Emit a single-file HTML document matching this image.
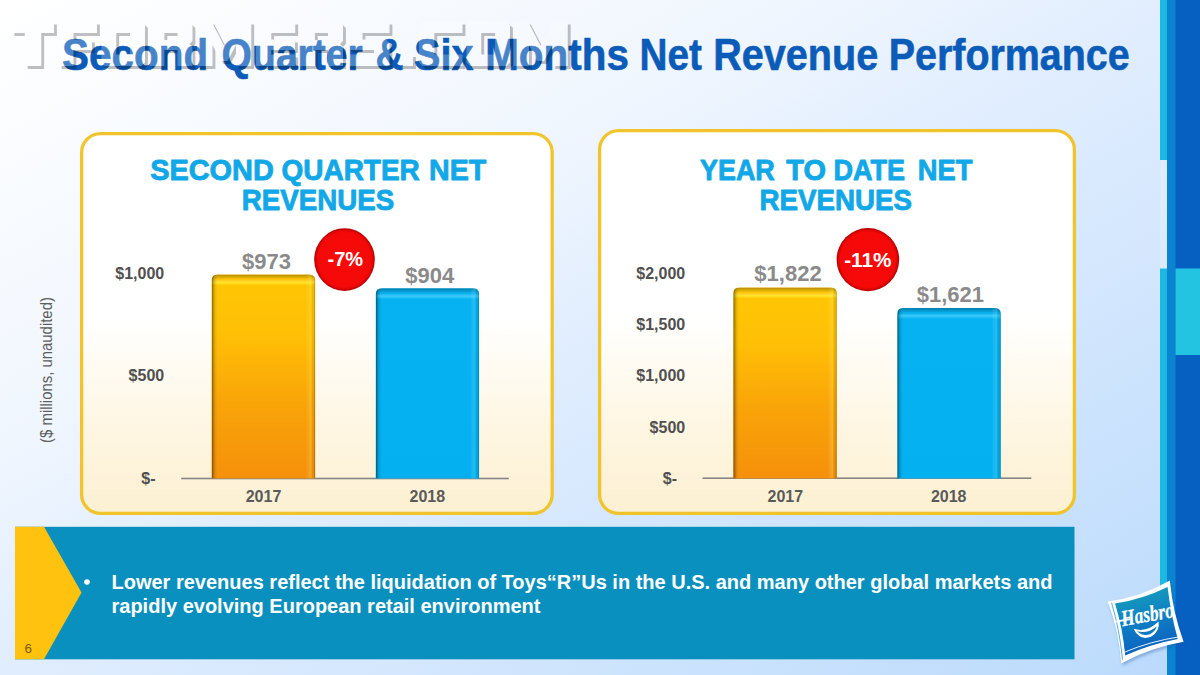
<!DOCTYPE html>
<html>
<head>
<meta charset="utf-8">
<title>Second Quarter &amp; Six Months Net Revenue Performance</title>
<style>
html,body{margin:0;padding:0;background:#fff;}
body{width:1200px;height:675px;overflow:hidden;font-family:"Liberation Sans",sans-serif;}
svg{display:block;position:absolute;left:0;top:0;}
text{font-family:"Liberation Sans",sans-serif;}
.b{font-weight:bold;}
</style>
</head>
<body>
<svg width="1200" height="675" viewBox="0 0 1200 675">
<defs>
  <linearGradient id="bg" x1="0" y1="0" x2="1" y2="1">
    <stop offset="0" stop-color="#ffffff"/>
    <stop offset="0.33" stop-color="#f0f6fe"/>
    <stop offset="0.5" stop-color="#e0edfe"/>
    <stop offset="1" stop-color="#badafc"/>
  </linearGradient>
  <linearGradient id="panel" x1="0" y1="0" x2="0" y2="1">
    <stop offset="0" stop-color="#ffffff"/>
    <stop offset="0.48" stop-color="#ffffff"/>
    <stop offset="0.78" stop-color="#fef6e2"/>
    <stop offset="1" stop-color="#fdf0d2"/>
  </linearGradient>
  <linearGradient id="gold" x1="0" y1="0" x2="0" y2="1">
    <stop offset="0" stop-color="#ffc704"/>
    <stop offset="0.3" stop-color="#ffbf06"/>
    <stop offset="0.62" stop-color="#f9a508"/>
    <stop offset="1" stop-color="#f5900b"/>
  </linearGradient>
  <linearGradient id="blue" x1="0" y1="0" x2="0" y2="1">
    <stop offset="0" stop-color="#06b2f2"/>
    <stop offset="1" stop-color="#04b0f0"/>
  </linearGradient>
  <linearGradient id="topbev" x1="0" y1="0" x2="0" y2="1">
    <stop offset="0" stop-color="#000" stop-opacity="0.30"/>
    <stop offset="0.35" stop-color="#000" stop-opacity="0.08"/>
    <stop offset="0.5" stop-color="#fff" stop-opacity="0"/>
    <stop offset="0.75" stop-color="#ffff40" stop-opacity="0.55"/>
    <stop offset="1" stop-color="#ffff40" stop-opacity="0"/>
  </linearGradient>
  <linearGradient id="topbevB" x1="0" y1="0" x2="0" y2="1">
    <stop offset="0" stop-color="#000" stop-opacity="0.30"/>
    <stop offset="0.35" stop-color="#000" stop-opacity="0.08"/>
    <stop offset="0.5" stop-color="#fff" stop-opacity="0"/>
    <stop offset="0.75" stop-color="#60e0ff" stop-opacity="0.5"/>
    <stop offset="1" stop-color="#60e0ff" stop-opacity="0"/>
  </linearGradient>
  <linearGradient id="leftbev" x1="0" y1="0" x2="1" y2="0">
    <stop offset="0" stop-color="#000" stop-opacity="0.5"/>
    <stop offset="0.5" stop-color="#000" stop-opacity="0.12"/>
    <stop offset="1" stop-color="#000" stop-opacity="0"/>
  </linearGradient>
  <linearGradient id="rightbev" x1="0" y1="0" x2="1" y2="0">
    <stop offset="0" stop-color="#fff" stop-opacity="0"/>
    <stop offset="0.55" stop-color="#ffff60" stop-opacity="0.22"/>
    <stop offset="0.8" stop-color="#000" stop-opacity="0.05"/>
    <stop offset="1" stop-color="#000" stop-opacity="0.30"/>
  </linearGradient>
  <linearGradient id="rightbevB" x1="0" y1="0" x2="1" y2="0">
    <stop offset="0" stop-color="#fff" stop-opacity="0"/>
    <stop offset="0.55" stop-color="#60e0ff" stop-opacity="0.25"/>
    <stop offset="0.8" stop-color="#000" stop-opacity="0.05"/>
    <stop offset="1" stop-color="#000" stop-opacity="0.28"/>
  </linearGradient>
  <filter id="soft" x="-20%" y="-20%" width="140%" height="140%"><feGaussianBlur stdDeviation="1.6"/></filter>
  <radialGradient id="red" cx="0.5" cy="0.5" r="0.5">
    <stop offset="0" stop-color="#fb0a0a"/>
    <stop offset="0.88" stop-color="#f40808"/>
    <stop offset="0.95" stop-color="#d80404"/>
    <stop offset="1" stop-color="#a80000"/>
  </radialGradient>
  <linearGradient id="logo" x1="0" y1="0" x2="0.25" y2="1">
    <stop offset="0" stop-color="#1aa6b4"/>
    <stop offset="0.45" stop-color="#0f86c4"/>
    <stop offset="1" stop-color="#0b62c0"/>
  </linearGradient>
</defs>

<!-- background -->
<rect x="0" y="0" width="1200" height="675" fill="url(#bg)"/>

<!-- right stripes -->
<rect x="1160" y="0" width="7.5" height="160" fill="#1db8e2"/>
<rect x="1160" y="268.5" width="7.5" height="320" fill="#1db8e2"/>
<rect x="1160" y="160" width="7.5" height="108.5" fill="#ffffff" fill-opacity="0.2"/>
<rect x="1167" y="0" width="9" height="675" fill="#0a84d0"/>
<rect x="1175.5" y="0" width="24.5" height="675" fill="#0660c2"/>
<rect x="1175.5" y="268.5" width="24.5" height="86.5" fill="#22c4e2"/>

<!-- title -->
<g class="b" font-size="44.5" fill="#0b5cb8" stroke="#0b5cb8" stroke-width="0.6" stroke-linejoin="round">
  <text class="b" x="62.09" y="69.6" textLength="146.14" lengthAdjust="spacingAndGlyphs">Second</text>
  <text class="b" x="221.62" y="69.6" textLength="141.16" lengthAdjust="spacingAndGlyphs">Quarter</text>
  <text class="b" x="375.38" y="69.6" textLength="28.12" lengthAdjust="spacingAndGlyphs">&amp;</text>
  <text class="b" x="414.11" y="69.6" textLength="59.42" lengthAdjust="spacingAndGlyphs">Six</text>
  <text class="b" x="485.18" y="69.6" textLength="143.71" lengthAdjust="spacingAndGlyphs">Months</text>
  <text class="b" x="639.51" y="69.6" textLength="62.33" lengthAdjust="spacingAndGlyphs">Net</text>
  <text class="b" x="713.22" y="69.6" textLength="164.94" lengthAdjust="spacingAndGlyphs">Revenue</text>
  <text class="b" x="888.73" y="69.6" textLength="240.93" lengthAdjust="spacingAndGlyphs">Performance</text>
</g>

<!-- watermark (TFORMERS.COM, white block letters with soft shadow) -->
<g opacity="0.24">
  <path transform="translate(2.9,2.9)" fill="#000000" fill-rule="evenodd" d="M11.5 21.5 H54 V33 H41.25 V66 H24.75 V33 H11.5 Z M58.75 21.5 H97 V33 H73.5 V39.5 H92 V50 H73.5 V66 H58.75 Z M101.5 25 L105 21.5 H141.5 L145 25 V62.5 L141.5 66 H105 L101.5 62.5 Z M116.25 33 H130 V54.5 H116.25 Z M149.5 21.5 H189 L192.5 25 V41 L189.5 44 L192.5 47 V66 H177.5 V50 H164.4 V66 H149.5 Z M164.4 33 H177.5 V40 H164.4 Z M197 21.5 H211.5 L224.1 46 L236.7 21.5 H251.25 V66 H236 V45 L227.5 61 H220.7 L212.5 45 V66 H197 Z M256 21.5 H295.25 V33 H271.25 V39.5 H295 V50 H271.25 V54.5 H295.25 V66 H256 Z M300.0 21.5 H339.5 L343.0 25 V41 L340.0 44 L343.0 47 V66 H328.0 V50 H314.9 V66 H300.0 Z M314.9 33 H328.0 V40 H314.9 Z M347 21.5 H389.5 V33 H362.5 V39.5 H386 L389.5 43 V66 H347 V54.5 H374 V50 H350.5 L347 46.5 Z M400 54 H413 V66 H400 Z M422.5 21.5 H462.5 V33 H434.4 V54.5 H462.5 V66 H422.5 L419 62.5 V25 Z M466.5 25 L470 21.5 H506.5 L510 25 V62.5 L506.5 66 H470 L466.5 62.5 Z M481.25 33 H495 V54.5 H481.25 Z M513.5 21.5 H528.0 L540.6 46 L553.2 21.5 H567.75 V66 H552.5 V45 L544.0 61 H537.2 L529.0 45 V66 H513.5 Z"/>
  <path fill="#ffffff" fill-rule="evenodd" d="M11.5 21.5 H54 V33 H41.25 V66 H24.75 V33 H11.5 Z M58.75 21.5 H97 V33 H73.5 V39.5 H92 V50 H73.5 V66 H58.75 Z M101.5 25 L105 21.5 H141.5 L145 25 V62.5 L141.5 66 H105 L101.5 62.5 Z M116.25 33 H130 V54.5 H116.25 Z M149.5 21.5 H189 L192.5 25 V41 L189.5 44 L192.5 47 V66 H177.5 V50 H164.4 V66 H149.5 Z M164.4 33 H177.5 V40 H164.4 Z M197 21.5 H211.5 L224.1 46 L236.7 21.5 H251.25 V66 H236 V45 L227.5 61 H220.7 L212.5 45 V66 H197 Z M256 21.5 H295.25 V33 H271.25 V39.5 H295 V50 H271.25 V54.5 H295.25 V66 H256 Z M300.0 21.5 H339.5 L343.0 25 V41 L340.0 44 L343.0 47 V66 H328.0 V50 H314.9 V66 H300.0 Z M314.9 33 H328.0 V40 H314.9 Z M347 21.5 H389.5 V33 H362.5 V39.5 H386 L389.5 43 V66 H347 V54.5 H374 V50 H350.5 L347 46.5 Z M400 54 H413 V66 H400 Z M422.5 21.5 H462.5 V33 H434.4 V54.5 H462.5 V66 H422.5 L419 62.5 V25 Z M466.5 25 L470 21.5 H506.5 L510 25 V62.5 L506.5 66 H470 L466.5 62.5 Z M481.25 33 H495 V54.5 H481.25 Z M513.5 21.5 H528.0 L540.6 46 L553.2 21.5 H567.75 V66 H552.5 V45 L544.0 61 H537.2 L529.0 45 V66 H513.5 Z"/>
</g>

<!-- panels -->
<rect x="81.6" y="133.6" width="470.6" height="379.8" rx="19" ry="19" fill="url(#panel)" stroke="#f2c42c" stroke-width="3.3"/>
<rect x="599.6" y="130.6" width="474.8" height="382.8" rx="19" ry="19" fill="url(#panel)" stroke="#f2c42c" stroke-width="3.3"/>

<!-- banner -->
<rect x="15" y="526.8" width="1059.5" height="132.5" fill="#0a90be"/>
<path d="M15 526.8 L44 526.8 L81.5 592.5 L44 659.3 L15 659.3 Z" fill="#ffc20e"/>
<text x="24.6" y="653" font-size="13.4" fill="#7a5a06">6</text>
<circle cx="87" cy="582" r="2.8" fill="#fff"/>
<text class="b" x="111.5" y="588.5" font-size="20" textLength="941" lengthAdjust="spacingAndGlyphs" fill="#fff">Lower revenues reflect the liquidation of Toys“R”Us in the U.S. and many other global markets and</text>
<text class="b" x="111.5" y="613" font-size="20" textLength="429" lengthAdjust="spacingAndGlyphs" fill="#fff">rapidly evolving European retail environment</text>

<!-- side label -->
<text transform="translate(51.6,442.9) rotate(-90)" font-size="16.6" textLength="145.8" lengthAdjust="spacingAndGlyphs" fill="#5e5e5e">($ millions, unaudited)</text>

<!-- LEFT CHART -->
<g font-size="29.5" fill="#12a8e8" stroke="#12a8e8" stroke-width="0.9" stroke-linejoin="round">
  <text class="b" x="150.2" y="180" textLength="123.6" lengthAdjust="spacingAndGlyphs">SECOND</text>
  <text class="b" x="281.55" y="180" textLength="138.24" lengthAdjust="spacingAndGlyphs">QUARTER</text>
  <text class="b" x="429.03" y="180" textLength="57.19" lengthAdjust="spacingAndGlyphs">NET</text>
  <text class="b" x="241.81" y="210.2" textLength="152.42" lengthAdjust="spacingAndGlyphs">REVENUES</text>
</g>

<!-- axis lines -->
<rect x="181.2" y="477.7" width="327.6" height="1.6" fill="#868686"/>
<rect x="702.5" y="477.4" width="328.8" height="1.6" fill="#868686"/>
<!-- LEFT CHART BARS -->
  <clipPath id="cL1"><path d="M211.7 478.5 L211.7 280.4 Q211.7 274.4 217.7 274.4 L309.2 274.4 Q315.2 274.4 315.2 280.4 L315.2 478.5 Z"/></clipPath>
  <path d="M211.7 478.5 L211.7 280.4 Q211.7 274.4 217.7 274.4 L309.2 274.4 Q315.2 274.4 315.2 280.4 L315.2 478.5 Z" fill="url(#gold)"/>
  <g clip-path="url(#cL1)">
    <rect x="211.7" y="274.4" width="103.5" height="11" fill="url(#topbev)"/>
    <rect x="211.7" y="274.4" width="5.5" height="204.10" fill="url(#leftbev)"/>
    <rect x="306.2" y="274.4" width="9" height="204.10" fill="url(#rightbev)"/>
  </g>
  <clipPath id="cL2"><path d="M375.8 478.5 L375.8 294.3 Q375.8 288.3 381.8 288.3 L473.1 288.3 Q479.1 288.3 479.1 294.3 L479.1 478.5 Z"/></clipPath>
  <path d="M375.8 478.5 L375.8 294.3 Q375.8 288.3 381.8 288.3 L473.1 288.3 Q479.1 288.3 479.1 294.3 L479.1 478.5 Z" fill="url(#blue)"/>
  <g clip-path="url(#cL2)">
    <rect x="375.8" y="288.3" width="103.30" height="11" fill="url(#topbevB)"/>
    <rect x="375.8" y="288.3" width="5.5" height="190.2" fill="url(#leftbev)"/>
    <rect x="470.1" y="288.3" width="9" height="190.2" fill="url(#rightbevB)"/>
  </g>
<!-- RIGHT CHART BARS -->
  <clipPath id="cR1"><path d="M733.3 478.5 L733.3 293.5 Q733.3 287.5 739.3 287.5 L830.8 287.5 Q836.8 287.5 836.8 293.5 L836.8 478.5 Z"/></clipPath>
  <path d="M733.3 478.5 L733.3 293.5 Q733.3 287.5 739.3 287.5 L830.8 287.5 Q836.8 287.5 836.8 293.5 L836.8 478.5 Z" fill="url(#gold)"/>
  <g clip-path="url(#cR1)">
    <rect x="733.3" y="287.5" width="103.5" height="11" fill="url(#topbev)"/>
    <rect x="733.3" y="287.5" width="5.5" height="191.0" fill="url(#leftbev)"/>
    <rect x="827.8" y="287.5" width="9" height="191.0" fill="url(#rightbev)"/>
  </g>
  <clipPath id="cR2"><path d="M897.3 478.5 L897.3 314 Q897.3 308 903.3 308 L994.8 308 Q1000.8 308 1000.8 314 L1000.8 478.5 Z"/></clipPath>
  <path d="M897.3 478.5 L897.3 314 Q897.3 308 903.3 308 L994.8 308 Q1000.8 308 1000.8 314 L1000.8 478.5 Z" fill="url(#blue)"/>
  <g clip-path="url(#cR2)">
    <rect x="897.3" y="308" width="103.5" height="11" fill="url(#topbevB)"/>
    <rect x="897.3" y="308" width="5.5" height="170.5" fill="url(#leftbev)"/>
    <rect x="991.8" y="308" width="9" height="170.5" fill="url(#rightbevB)"/>
  </g>
<!-- LEFT CHART TEXT -->
<g class="b" fill="#505050" font-size="16" text-anchor="end">
  <text class="b" x="164.2" y="279">$1,000</text>
  <text class="b" x="164.2" y="381.2">$500</text>
  <text class="b" x="155.6" y="483.5">$-</text>
</g>
<g fill="#5a5a5a" font-size="16" text-anchor="middle">
  <text class="b" x="263.5" y="501.6">2017</text>
  <text class="b" x="427.3" y="501.6">2018</text>
</g>
<g fill="#8a8a8a" font-size="22" text-anchor="middle">
  <text class="b" x="266.4" y="268.6">$973</text>
  <text class="b" x="429.8" y="283">$904</text>
</g>
<ellipse cx="344.5" cy="259.6" rx="30.3" ry="31.4" fill="url(#red)"/>
<text class="b" x="345.3" y="266.2" font-size="20" text-anchor="middle" fill="#fff">-7%</text>

<!-- RIGHT CHART TEXT -->
<g font-size="29.5" fill="#12a8e8" stroke="#12a8e8" stroke-width="0.9" stroke-linejoin="round">
  <text class="b" x="700.0" y="180.2" textLength="74.78" lengthAdjust="spacingAndGlyphs">YEAR</text>
  <text class="b" x="786.25" y="180.2" textLength="39.68" lengthAdjust="spacingAndGlyphs">TO</text>
  <text class="b" x="833.58" y="180.2" textLength="71.54" lengthAdjust="spacingAndGlyphs">DATE</text>
  <text class="b" x="917.82" y="180.2" textLength="54.7" lengthAdjust="spacingAndGlyphs">NET</text>
  <text class="b" x="759.56" y="210.2" textLength="152.32" lengthAdjust="spacingAndGlyphs">REVENUES</text>
</g>
<g fill="#505050" font-size="16" text-anchor="end">
  <text class="b" x="685.2" y="279.3">$2,000</text>
  <text class="b" x="685.2" y="329.8">$1,500</text>
  <text class="b" x="685.2" y="381.3">$1,000</text>
  <text class="b" x="685.2" y="432.5">$500</text>
  <text class="b" x="677" y="483.7">$-</text>
</g>
<g fill="#5a5a5a" font-size="16" text-anchor="middle">
  <text class="b" x="785.3" y="502">2017</text>
  <text class="b" x="948.7" y="502">2018</text>
</g>
<g fill="#8a8a8a" font-size="22" text-anchor="middle">
  <text class="b" x="788" y="280.9">$1,822</text>
  <text class="b" x="950.4" y="302.3">$1,621</text>
</g>
<ellipse cx="867.9" cy="259.6" rx="31.3" ry="31.6" fill="url(#red)"/>
<text class="b" x="844.2" y="267.2" font-size="20" textLength="47.4" lengthAdjust="spacingAndGlyphs" fill="#fff">-11%</text>

<!-- Hasbro logo -->
<g id="logo">
  <path d="M1107.6 601.4 Q1141 597 1169.8 580.4 Q1173 613 1183.6 641.8 Q1150 647.5 1121.2 663.6 Q1119 630 1107.6 601.4 Z" fill="#1c4f9c" fill-opacity="0.35" transform="translate(1.2,2.2)" filter="url(#soft)"/>
  <path d="M1107.6 601.4 Q1141 597 1169.8 580.4 Q1173 613 1183.6 641.8 Q1150 647.5 1121.2 663.6 Q1119 630 1107.6 601.4 Z" fill="#ffffff"/>
  <path d="M1115 603.6 Q1142.5 599.3 1167.6 587 Q1170.6 613.5 1177.8 639 Q1149.5 644.3 1125.2 655.6 Q1122.8 628.5 1115 603.6 Z" fill="url(#logo)"/>
  <path d="M1111.6 602.8 Q1119.6 630 1122.6 659.6" fill="none" stroke="#1488c8" stroke-width="0.7"/>
  <path d="M1124.5 652.2 Q1150 641.3 1180.6 636.6" fill="none" stroke="#ffffff" stroke-width="0.9"/>
  <g transform="translate(1148.6,621.6) rotate(-10)">
    <text x="0" y="0" style="font-family:'Liberation Serif',serif;font-style:italic;font-weight:bold" font-size="22.5" text-anchor="middle" textLength="53" lengthAdjust="spacingAndGlyphs" fill="#ffffff" stroke="#ffffff" stroke-width="0.3">Hasbro</text>
    <rect x="-34.5" y="-6.6" width="17" height="1.9" rx="0.9" fill="#ffffff"/>
  </g>
  <path d="M1133.6 628.8 Q1147 633 1158.6 621.6 Q1160.2 631.5 1151 636.8 Q1139.5 641 1133.6 628.8 Z" fill="#ffffff"/>
  <path d="M1137 631.3 Q1147.5 634.2 1156.6 626.6 Q1155.6 631.2 1150 634.2 Q1142.5 636.6 1137 631.3 Z" fill="#0e78c4"/>
</g>
</svg>
</body>
</html>
